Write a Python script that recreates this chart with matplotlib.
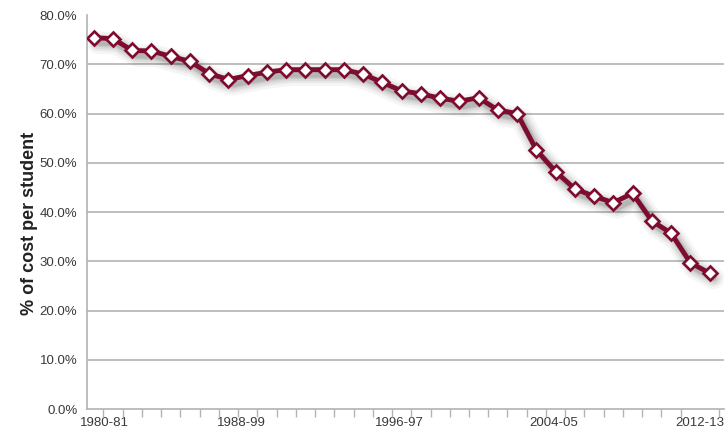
import matplotlib
matplotlib.use("Agg")
import matplotlib.pyplot as plt
import matplotlib.transforms as mtransforms
from matplotlib.ticker import FixedLocator, FuncFormatter
import numpy as np

# State appropriation as a share of cost per student, by academic year
years = [f"{y}-{str(y + 1)[-2:]}" for y in range(1980, 2013)]
share = [75.4, 75.2, 72.8, 72.7, 71.6, 70.6, 68.1, 66.9, 67.7, 68.4,
         68.9, 68.9, 68.9, 68.9, 68.0, 66.3, 64.6, 64.0, 63.1, 62.5,
         63.2, 60.7, 60.0, 52.6, 48.2, 44.7, 43.2, 41.9, 43.8, 38.2,
         35.7, 29.7, 27.6]
x_labels = ["1980-81", "1988-99", "1996-97", "2004-05", "2012-13"]
y_ticks = [0, 10, 20, 30, 40, 50, 60, 70, 80]

plt.rcParams["font.family"] = ["Liberation Sans", "DejaVu Sans"]

maroon = "#7d0c2e"
grid_gray = "#b3b3b3"
text_gray = "#3a3a3a"

fig = plt.figure(figsize=(7.25, 4.34), dpi=100)
ax = fig.add_axes([0.12, 0.0576, 0.8786, 0.9078])

x = np.arange(len(share))

# soft drop shadow under the line
for lw, a in [(16, 0.04), (12, 0.05), (9, 0.06), (6, 0.08), (4, 0.09)]:
    shadow_tr = mtransforms.offset_copy(ax.transData, fig=fig, x=4, y=-5, units="dots")
    ax.plot(x, share, color="black", lw=lw, alpha=a, transform=shadow_tr,
            solid_capstyle="round", solid_joinstyle="round", zorder=2)

ax.plot(x, share, color=maroon, lw=3.5, zorder=3,
        marker="D", markersize=7.5, markerfacecolor="white",
        markeredgecolor=maroon, markeredgewidth=1.9, solid_joinstyle="round")

ax.set_xlim(-0.35, 32.75)
ax.set_ylim(0, 80)

ax.set_yticks(y_ticks)
ax.yaxis.set_major_formatter(FuncFormatter(lambda v, p: f"{v:.1f}%"))
for v in y_ticks[1:-1]:
    ax.axhline(v, color=grid_gray, lw=1.2, zorder=1)

# year labels sit under every eighth category boundary
ax.set_xticks([0.55, 7.65, 15.9, 23.9, 31.5])
ax.set_xticklabels(x_labels)
ax.xaxis.set_minor_locator(FixedLocator(np.arange(0.5, 33, 1.0)))
ax.tick_params(axis="x", which="major", length=0, pad=6, labelsize=9.5, labelcolor=text_gray)
ax.tick_params(axis="x", which="minor", length=6, width=1, color=grid_gray, direction="out")
ax.tick_params(axis="y", length=0, pad=7, labelsize=9.5, labelcolor=text_gray)

for s in ["top", "right"]:
    ax.spines[s].set_visible(False)
for s in ["left", "bottom"]:
    ax.spines[s].set_color(grid_gray)
    ax.spines[s].set_linewidth(1.2)

fig.text(30 / 725, 1 - 223 / 434, "% of cost per student", rotation=90,
         ha="center", va="center", fontsize=13, fontweight="bold", color="#222222")

fig.savefig("out.png", dpi=100)
